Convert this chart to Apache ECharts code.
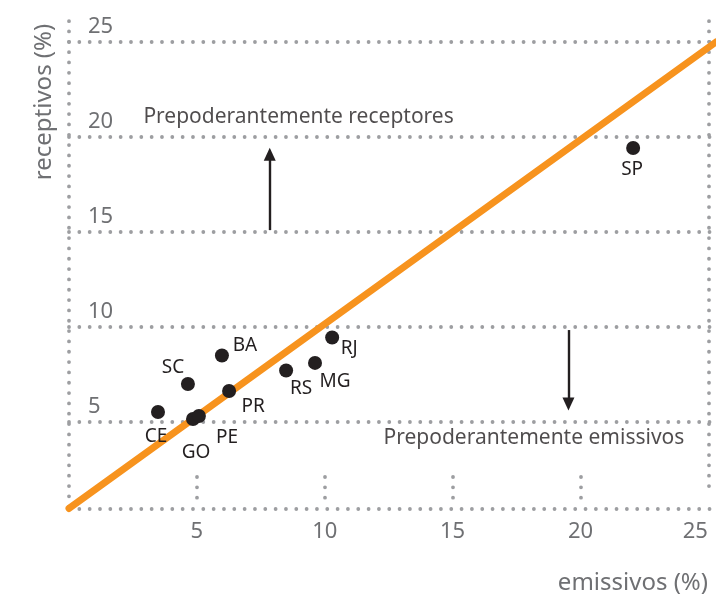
<!DOCTYPE html>
<html><head><meta charset="utf-8">
<script src="https://cdn.jsdelivr.net/npm/echarts@6/dist/echarts.min.js"></script>
<style>html,body{margin:0;padding:0;background:#fff}#c{width:716px;height:594px}</style>
</head><body><div id="c"></div>
<script>
// ---- data ----
const states = ['SP','RJ','MG','RS','BA','SC','PR','CE','GO','PE'];
const emissivos = [22.06,10.29,9.62,8.49,5.98,4.65,6.26,3.48,4.85,5.08];
const receptivos = [19.42,9.45,8.11,7.71,8.5,7.0,6.63,5.53,5.16,5.32];
const xTicks = [5,10,15,20];
const diagonalX = [0, 25.3];
const diagonalY = [0.45, 25.0];
const annotationTexts = ['Prepoderantemente receptores','Prepoderantemente emissivos'];
const annotationX = [2.89, 12.28];
const annotationY = [21.05, 4.16];
const arrowX = [7.85, 19.53];
const arrowFrom = [15.1, 9.84];
const arrowTo = [19.1, 5.95];

// ---- styles ----
const labelOffsets = {
  SP:[-1,22], RJ:[17,11], MG:[20,19], RS:[15,18], BA:[23,-10],
  SC:[-15,-16], PR:[24,16], CE:[-2,25], GO:[3,34], PE:[28,22]
};
const FONT = '"Noto Sans", "Open Sans", sans-serif';
const GRAY = '#6f7073';
const DOT = {color:'#9d9ea1', width:3.8, type:[0.001,10.33], cap:'round'};

const frameLines = [
  [{coord:[0,0.42]},{coord:[25.29,0.42]}],
  [{coord:[0,26.1]},{coord:[0,0.42]}],
  [{coord:[25.03,26.1]},{coord:[25.03,1.58]}]
].concat(xTicks.map(t => [{coord:[t,2.105]},{coord:[t,0.99]}]));

const chart = echarts.init(document.getElementById('c'));
chart.setOption({
  animation:false,
  textStyle:{fontFamily:FONT},
  grid:{left:69,right:0,top:20,bottom:77,containLabel:false,outerBoundsMode:'none'},
  xAxis:{
    type:'value', min:0, max:25.3, interval:5,
    axisLine:{show:false}, axisTick:{show:false}, splitLine:{show:false},
    axisLabel:{show:true, showMinLabel:false, showMaxLabel:false, margin:4, hideOverlap:false,
      fontSize:22, color:GRAY, fontFamily:FONT,
      formatter: v => v === 25 ? '{e|25}' : String(v),
      rich:{e:{padding:[0,26,0,0], fontSize:22, color:GRAY, fontFamily:FONT}}}
  },
  yAxis:{
    type:'value', min:0, max:26.16, interval:5,
    axisLine:{show:false}, axisTick:{show:false},
    splitLine:{show:true, showMinLine:false, showMaxLine:false, lineStyle:DOT},
    axisLabel:{inside:true, margin:19, showMinLabel:false, showMaxLabel:false,
      verticalAlign:'bottom', padding:[0,0,4,0], fontSize:22, color:GRAY, fontFamily:FONT}
  },
  graphic:[
    {type:'text', x:44, y:102, rotation:Math.PI/2,
      style:{text:'receptivos (%)', font:'24px ' + FONT, fill:GRAY, align:'center', verticalAlign:'middle'}},
    {type:'text', x:708, y:583,
      style:{text:'emissivos (%)', font:'24px ' + FONT, fill:GRAY, align:'right', verticalAlign:'middle'}}
  ],
  series:[
    {
      type:'line', data:[[0,0.42]], showSymbol:false, silent:true,
      lineStyle:{opacity:0},
      markLine:{silent:true, z:1, symbol:'none', animation:false,
        label:{show:false}, emphasis:{disabled:true},
        lineStyle:DOT, data:frameLines}
    },
    {
      type:'line', data:diagonalX.map((x,i)=>[x,diagonalY[i]]),
      showSymbol:false, silent:true, z:3,
      lineStyle:{color:'#F7931E', width:7, cap:'round'}
    },
    {
      type:'line', data:[[arrowX[0],arrowFrom[0]]], showSymbol:false, silent:true,
      lineStyle:{opacity:0},
      markLine:{silent:true, z:4, symbol:['none','triangle'], symbolSize:[12,13], animation:false,
        label:{show:false}, emphasis:{disabled:true},
        lineStyle:{color:'#231f20', width:2.4, type:'solid'},
        data:arrowX.map((x,i)=>[{coord:[x,arrowFrom[i]]},{coord:[x,arrowTo[i]]}])}
    },
    {
      type:'scatter', z:5, silent:true, symbolSize:14,
      itemStyle:{color:'#231f20', opacity:1},
      data:states.map((s,i)=>({
        name:s, value:[emissivos[i],receptivos[i]],
        label:{show:true, position:'inside', offset:labelOffsets[s], formatter:s,
          fontSize:19, color:'#231f20', fontFamily:FONT}
      }))
    },
    {
      type:'scatter', z:5, silent:true, symbolSize:1,
      itemStyle:{color:'rgba(0,0,0,0)'},
      data:annotationTexts.map((t,i)=>({
        value:[annotationX[i],annotationY[i]],
        label:{show:true, position:'right', distance:0, formatter:t,
          fontSize:21, color:'#231f20', fontFamily:FONT}
      }))
    }
  ]
});
</script></body></html>
